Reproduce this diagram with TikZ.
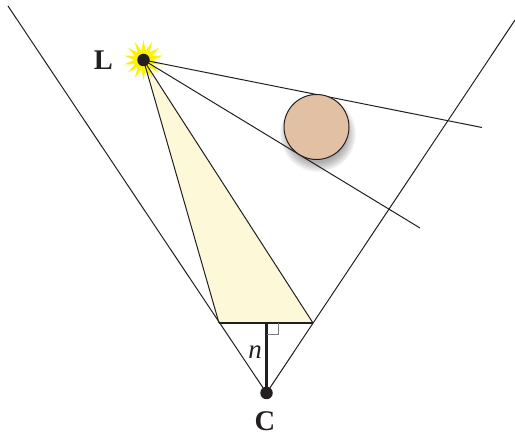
\documentclass[tikz,border=0pt]{standalone}
\usepackage{fontspec}
\setmainfont{Liberation Serif}
\usetikzlibrary{shapes.geometric}
\definecolor{ink}{HTML}{231F20}
\definecolor{pale}{HTML}{FDF8D8}
\definecolor{ball}{HTML}{E2C0A4}
\definecolor{sun}{HTML}{FFF200}
\tikzset{
  ray/.style={draw=ink,line width=1pt},
  heavy/.style={draw=ink,line width=2.1pt},
  dotmark/.style={circle,fill=ink,inner sep=0pt,minimum size=12.5pt},
  lab/.style={text=ink,inner sep=0pt,font=\bfseries\fontsize{28.5}{28.5}\selectfont},
  starburst/.style={star,star points=14,star point ratio=2.1,fill=sun,inner sep=0pt,minimum size=40pt}
}
\begin{document}
\begin{tikzpicture}[x=1pt,y=-1pt]
\useasboundingbox (0,0) rectangle (515,433);
\coordinate (L) at (143.5,60);
\coordinate (C) at (266.5,393);
\coordinate (A) at (219,323);
\coordinate (B) at (313,323);
\coordinate (N) at (266.5,323);
\coordinate (FL) at (8,6);
\coordinate (FR) at (515,20);
\coordinate (R1) at (482,127.5);
\coordinate (R2) at (420,228);
\coordinate (S1) at (267,334.5);
\coordinate (S2) at (278,334.5);
\coordinate (S3) at (278,323);
\fill[pale] (L) -- (A) -- (B) -- cycle;
\foreach \r in {38,37,36,35,34,33,32,31,30,29,28}
  \fill[black,opacity=0.035] (318,134) circle (\r pt);
\node[starburst] (sunburst) at (L) {};
\draw[ray] (FL) -- (C) -- (FR);
\draw[ray] (L) -- (A);
\draw[ray] (L) -- (B);
\draw[ray] (L) -- (R1);
\draw[ray] (L) -- (R2);
\node[circle,draw=ink,line width=1pt,fill=ball,inner sep=0pt,minimum size=65pt] (ball) at (316.5,127) {};
\draw[heavy] (A) -- (B);
\draw[heavy] (N) -- (C);
\draw[draw=ink!60,line width=0.5pt] (S1) -- (S2) -- (S3);
\node[dotmark] (Ldot) at (L) {};
\node[dotmark] (Cdot) at (C) {};
\node[lab] (Llab) at (103.5,60) {L};
\node[lab] (Clab) at (265,421) {C};
\node[text=ink,inner sep=0pt,font=\itshape\fontsize{27}{27}\selectfont] (n) at (255,352) {n};
\end{tikzpicture}
\end{document}
